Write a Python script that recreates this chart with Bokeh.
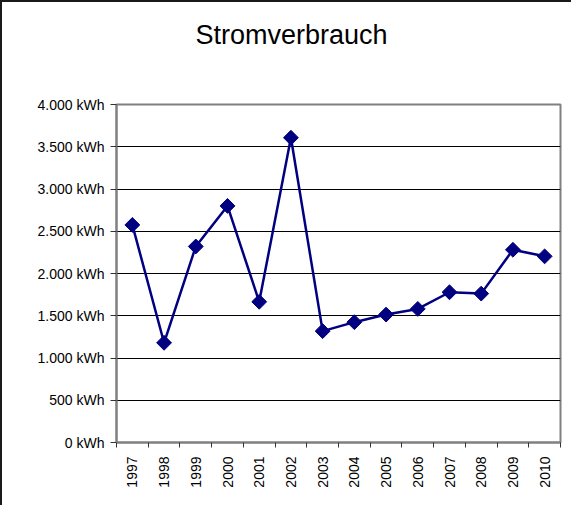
import numpy as np
from bokeh.plotting import figure
from bokeh.models import Range1d, FixedTicker, CustomJSTickFormatter, Title, ColumnDataSource
from bokeh.embed import file_html
from bokeh.resources import INLINE

# Data
years = ["1997", "1998", "1999", "2000", "2001", "2002", "2003",
         "2004", "2005", "2006", "2007", "2008", "2009", "2010"]
consumption = [2575, 1180, 2320, 2800, 1665, 3607, 1318,
               1424, 1514, 1581, 1778, 1762, 2281, 2203]
y_ticks = [0, 500, 1000, 1500, 2000, 2500, 3000, 3500, 4000]
y_labels = ["0 kWh", "500 kWh", "1.000 kWh", "1.500 kWh", "2.000 kWh",
            "2.500 kWh", "3.000 kWh", "3.500 kWh", "4.000 kWh"]
chart_title = "Stromverbrauch"

n = len(years)
xpos = [i + 0.5 for i in range(n)]
src = ColumnDataSource(dict(x=xpos, y=consumption, year=years))

FONT = "Liberation Sans"

p = figure(width=571, height=505, output_backend="svg", toolbar_location=None,
           x_range=Range1d(0, n), y_range=Range1d(0, 4000),
           min_border_left=114, min_border_right=13,
           min_border_top=0, min_border_bottom=65)
p.styles = {"border-top": "2px solid #1a1a1a", "border-left": "2px solid #1a1a1a"}
p.background_fill_color = "white"
p.border_fill_color = "white"
p.outline_line_color = "#808080"
p.outline_line_width = 2

# Chart title (outermost panel)
p.title = Title(text=chart_title, align="left", offset=79, vertical_align="bottom",
                text_font=FONT, text_font_size="27px", text_font_style="normal",
                text_color="black", standoff=30)
# invisible spacer between title and plot area
p.add_layout(Title(text=" ", text_font=FONT, text_font_size="27px", standoff=8), "above")

# Y axis
p.yaxis.ticker = FixedTicker(ticks=y_ticks)
p.yaxis.major_label_overrides = dict(zip(y_ticks, y_labels))
p.yaxis.major_label_text_font = FONT
p.yaxis.major_label_text_font_size = "14px"
p.yaxis.major_label_text_color = "black"
p.yaxis.major_tick_out = 6
p.yaxis.major_tick_in = 0
p.yaxis.minor_tick_out = 0
p.yaxis.minor_tick_in = 0
p.yaxis.axis_line_color = "#808080"
p.yaxis.axis_line_width = 2
p.yaxis.major_tick_line_color = "#333333"
p.yaxis.major_label_standoff = 6

# X axis
p.xaxis.ticker = FixedTicker(ticks=xpos, minor_ticks=list(range(n + 1)))
p.xaxis.formatter = CustomJSTickFormatter(args=dict(labels=years),
                                          code="return labels[Math.floor(tick)];")
p.xaxis.major_label_orientation = np.pi / 2
p.xaxis.major_label_text_font = FONT
p.xaxis.major_label_text_font_size = "14px"
p.xaxis.major_label_text_color = "black"
p.xaxis.major_tick_out = 0
p.xaxis.major_tick_in = 0
p.xaxis.minor_tick_out = 5
p.xaxis.minor_tick_in = 0
p.xaxis.minor_tick_line_color = "#333333"
p.xaxis.axis_line_color = "#808080"
p.xaxis.axis_line_width = 2
p.xaxis.major_label_standoff = 9

# Grid
p.xgrid.visible = False
p.ygrid.ticker = FixedTicker(ticks=y_ticks[1:-1])
p.ygrid.grid_line_color = "black"
p.ygrid.grid_line_width = 1

# Series
p.line("x", "y", source=src, line_color="#000080", line_width=2.5)
p.scatter("x", "y", source=src, marker="square", size=10.5, angle=np.pi / 4,
          fill_color="#000080", line_color="#000080")

open("out.html", "w").write(file_html(p, INLINE))
